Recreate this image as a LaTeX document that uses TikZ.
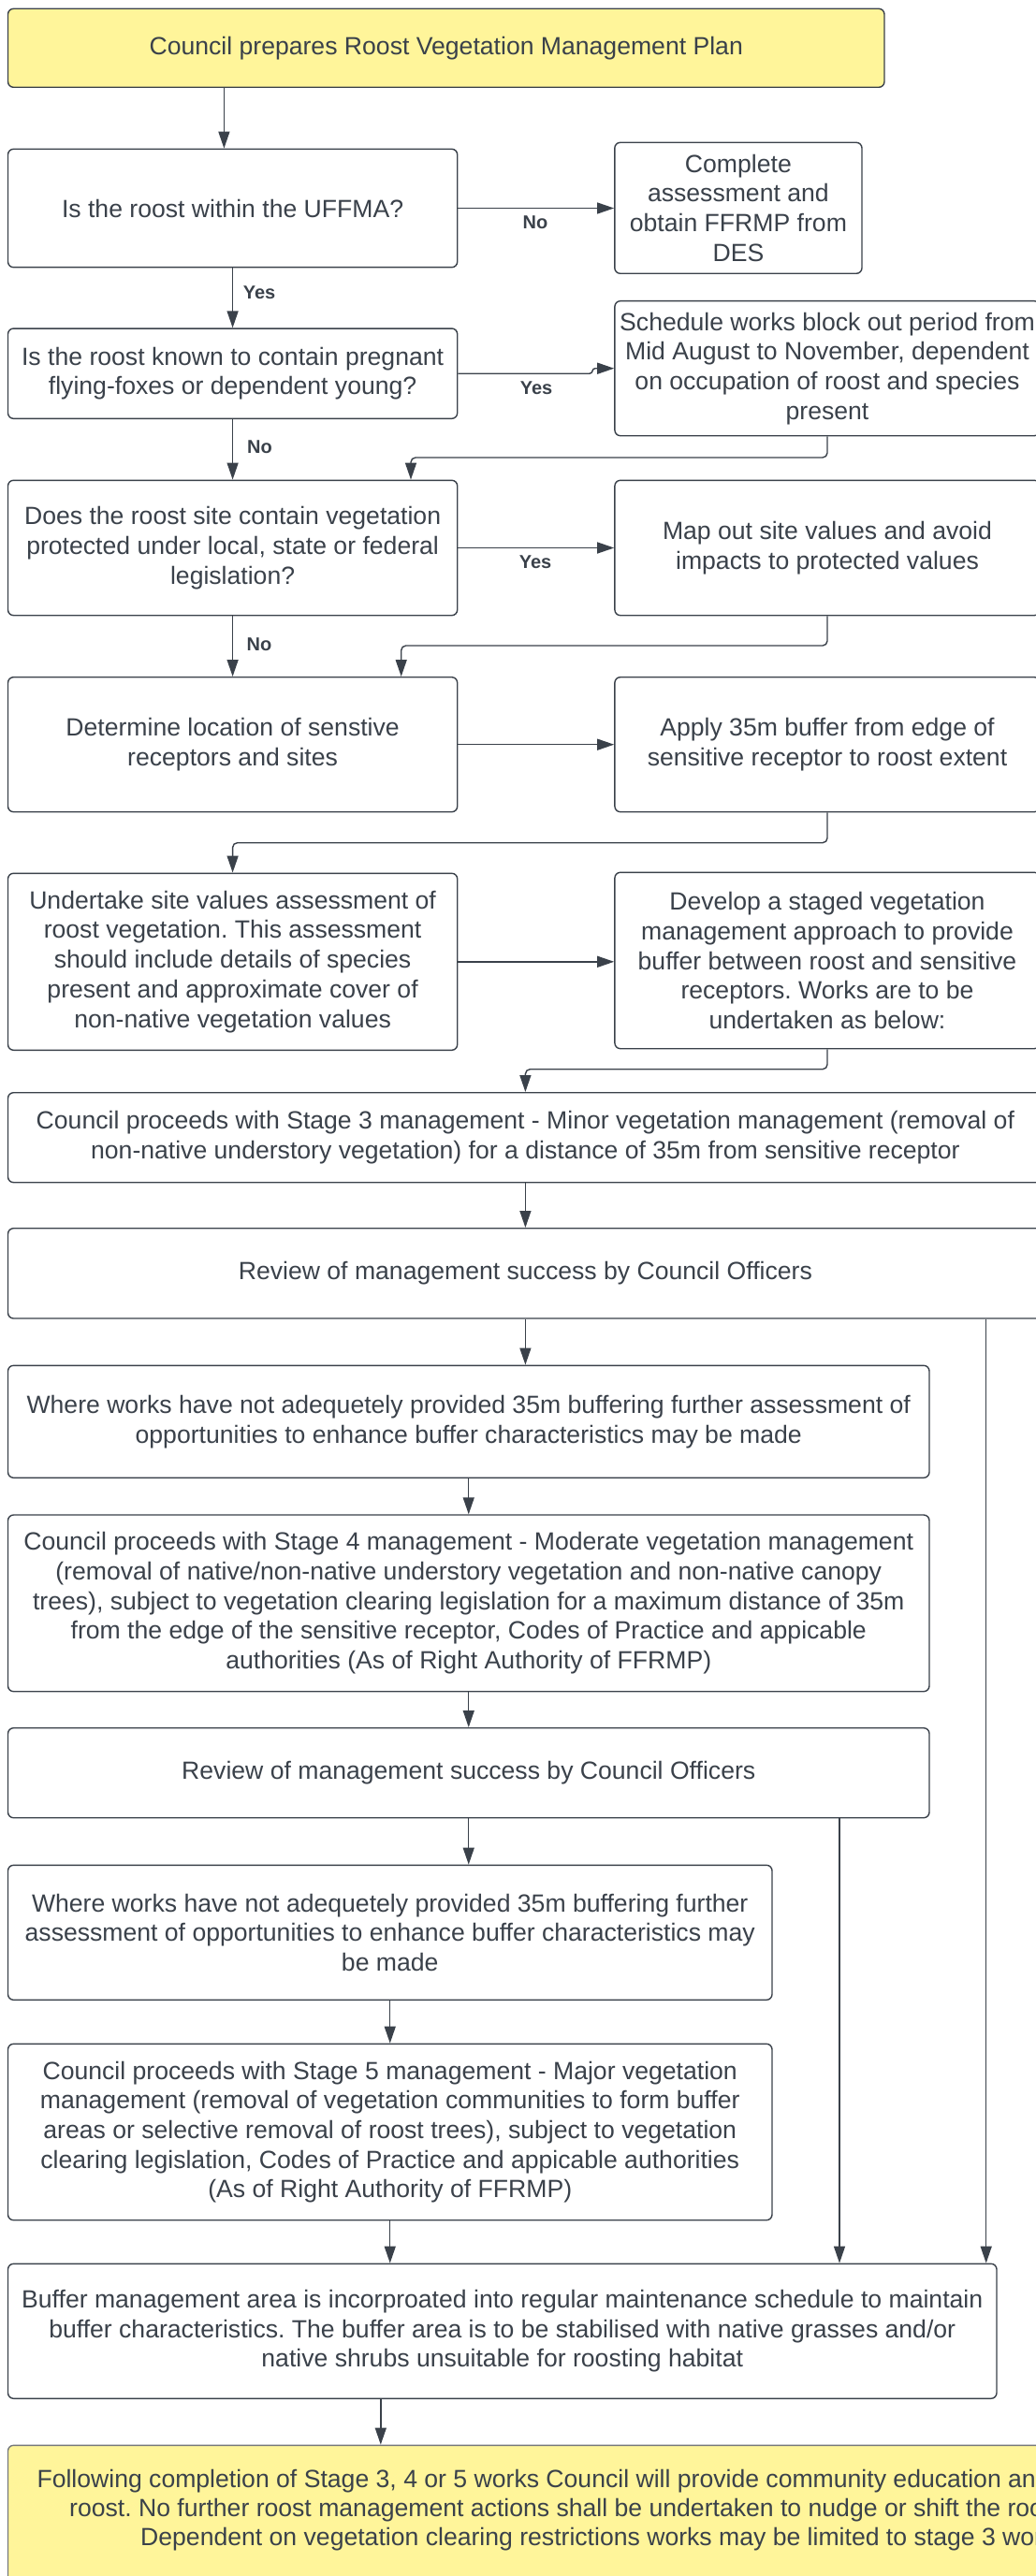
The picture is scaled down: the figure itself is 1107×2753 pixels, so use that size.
\documentclass[tikz,border=0pt]{standalone}
\usepackage{fontspec}
\setmainfont{Liberation Sans}
\usetikzlibrary{arrows.meta}
\definecolor{ink}{HTML}{3A414A}
\definecolor{note}{HTML}{FFF59A}
\definecolor{edge2}{HTML}{75787C}
\frenchspacing
\begin{document}
\begin{tikzpicture}[x=1pt,y=-1pt,
  box/.style={draw=ink, line width=1.4pt, rounded corners=6pt, fill=white, inner sep=0pt,
    align=center, text=ink, font=\fontsize{26.6}{31.7}\selectfont},
  arr/.style={draw=ink, line width=1.4pt, -{Triangle[length=18pt,width=12pt]}, rounded corners=5pt},
  lbl/.style={text=ink, font=\bfseries\fontsize{20}{24}\selectfont, inner sep=0pt},
  fintext/.style={text=ink, font=\fontsize{26.6}{31.7}\selectfont, inner sep=0pt, anchor=base west}]
\useasboundingbox (0,0) rectangle (1107,2753);
\clip (0,0) rectangle (1107,2753);

% nodes
\node[box, fill=note, minimum width=936.5pt, minimum height=84pt] (top) at (476.75,51.3)
  {Council prepares Roost Vegetation Management Plan};
\node[box, minimum width=480.2pt, minimum height=126.4pt] (q1) at (248.6,222.5)
  {Is the roost within the UFFMA?};
\node[box, minimum width=264.2pt, minimum height=140pt] (r1) at (788.9,222.3)
  {Complete\\assessment and\\obtain FFRMP from\\DES};
\node[box, minimum width=480.2pt, minimum height=96.3pt] (q2) at (248.6,399.2)
  {Is the roost known to contain pregnant\\flying-foxes or dependent young?};
\node[box, minimum width=454.2pt, minimum height=144pt] (r2) at (884,393.7)
  {Schedule works block out period from\\Mid August to November, dependent\\on occupation of roost and species\\present};
\node[box, minimum width=480.2pt, minimum height=144.4pt] (q3) at (248.6,585.5)
  {Does the roost site contain vegetation\\protected under local, state or federal\\legislation?};
\node[box, minimum width=454.2pt, minimum height=144.4pt] (r3) at (884,585.5)
  {Map out site values and avoid\\impacts to protected values};
\node[box, minimum width=480.2pt, minimum height=144pt] (q4) at (248.6,795.7)
  {Determine location of senstive\\receptors and sites};
\node[box, minimum width=454.2pt, minimum height=144pt] (r4) at (884,795.7)
  {Apply 35m buffer from edge of\\sensitive receptor to roost extent};
\node[box, minimum width=480.2pt, minimum height=189pt] (q5) at (248.6,1027.8)
  {Undertake site values assessment of\\roost vegetation. This assessment\\should include details of species\\present and approximate cover of\\non-native vegetation values};
\node[box, minimum width=454.2pt, minimum height=188.4pt] (r5) at (884,1026.5)
  {Develop a staged vegetation\\management approach to provide\\buffer between roost and sensitive\\receptors. Works are to be\\undertaken as below:};
\node[box, minimum width=1105.8pt, minimum height=96pt] (s3) at (561.4,1215.7)
  {Council proceeds with Stage 3 management - Minor vegetation management (removal of\\non-native understory vegetation) for a distance of 35m from sensitive receptor};
\node[box, minimum width=1105.8pt, minimum height=96.3pt] (rev1) at (561.4,1360.85)
  {Review of management success by Council Officers};
\node[box, minimum width=984.5pt, minimum height=120pt] (w1) at (500.75,1519.3)
  {Where works have not adequetely provided 35m buffering further assessment of\\opportunities to enhance buffer characteristics may be made};
\node[box, minimum width=984.5pt, minimum height=188.7pt] (s4) at (500.75,1713.35)
  {Council proceeds with Stage 4 management - Moderate vegetation management\\(removal of native/non-native understory vegetation and non-native canopy\\trees), subject to vegetation clearing legislation for a maximum distance of 35m\\from the edge of the sensitive receptor, Codes of Practice and appicable\\authorities (As of Right Authority of FFRMP)};
\node[box, minimum width=984.5pt, minimum height=96pt] (rev2) at (500.75,1894.7)
  {Review of management success by Council Officers};
\node[box, minimum width=816.5pt, minimum height=144pt] (w2) at (416.75,2065.3)
  {Where works have not adequetely provided 35m buffering further\\assessment of opportunities to enhance buffer characteristics may\\be made};
\node[box, minimum width=816.5pt, minimum height=188.4pt] (s5) at (416.75,2278.5)
  {Council proceeds with Stage 5 management - Major vegetation\\management (removal of vegetation communities to form buffer\\areas or selective removal of roost trees), subject to vegetation\\clearing legislation, Codes of Practice and appicable authorities\\(As of Right Authority of FFRMP)};
\node[box, minimum width=1056.5pt, minimum height=144pt] (buf) at (536.75,2491.3)
  {Buffer management area is incorproated into regular maintenance schedule to maintain\\buffer characteristics. The buffer area is to be stabilised with native grasses and/or\\native shrubs unsuitable for roosting habitat};
\node[box, draw=edge2, fill=note, minimum width=1291.5pt, minimum height=186.7pt] (fin) at (654.25,2706.65) {};
\node[fintext] (fin1) at (39.3,2658.3) {Following completion of Stage 3, 4 or 5 works Council will provide community education and};
\node[fintext] (fin2) at (74,2689.3) {roost. No further roost management actions shall be undertaken to nudge or shift the roost};
\node[fintext] (fin3) at (150,2720.7) {Dependent on vegetation clearing restrictions works may be limited to stage 3 works};

% helper coordinates
\coordinate (xa) at (239.4,0);
\coordinate (k6) at (439,489);
\coordinate (k9) at (428.7,690);
\coordinate (k11) at (248.6,900.7);
\coordinate (k13) at (561.4,1142.7);
\coordinate (x16) at (1053.7,0);
\coordinate (x20) at (897,0);
\coordinate (x23) at (406.8,0);
\coordinate (j1) at (630,399.2);
\coordinate (j2) at (636,393.7);

% connectors
\draw[arr] (top.south -| xa) -- (q1.north -| xa);
\draw[arr] (q1.east) -- (q1.east -| r1.west);
\draw[arr] (q1.south) -- (q2.north);
\draw[arr, rounded corners=0pt] (q2.east) -- (j1) .. controls (634,399.2) and (632,393.7) .. (j2) -- (r2.west);
\draw[arr] (q2.south) -- (q3.north);
\draw[arr] (r2.south) |- (k6) -- (k6 |- q3.north);
\draw[arr] (q3.east) -- (r3.west);
\draw[arr] (q3.south) -- (q4.north);
\draw[arr] (r3.south) |- (k9) -- (k9 |- q4.north);
\draw[arr] (q4.east) -- (r4.west);
\draw[arr] (r4.south) |- (k11) -- (k11 |- q5.north);
\draw[arr] (q5.east) -- (q5.east -| r5.west);
\draw[arr] (r5.south) |- (k13) -- (k13 |- s3.north);
\draw[arr] (s3.south) -- (rev1.north);
\draw[arr] (rev1.south) -- (rev1.south |- w1.north);
\draw[arr] (rev1.south -| x16) -- (buf.north -| x16);
\draw[arr] (w1.south) -- (s4.north);
\draw[arr] (s4.south) -- (rev2.north);
\draw[arr] (rev2.south) -- (rev2.south |- w2.north);
\draw[arr] (rev2.south -| x20) -- (buf.north -| x20);
\draw[arr] (w2.south) -- (s5.north);
\draw[arr] (s5.south) -- (s5.south |- buf.north);
\draw[arr] (buf.south -| x23) -- (fin.north -| x23);

% labels
\node[lbl] (l1) at (572,237.7) {No};
\node[lbl] (l2) at (277,312.3) {Yes};
\node[lbl] (l3) at (573,414.3) {Yes};
\node[lbl] (l4) at (277.5,477.7) {No};
\node[lbl] (l5) at (572,600.7) {Yes};
\node[lbl] (l6) at (277,688.3) {No};
\end{tikzpicture}
\end{document}
